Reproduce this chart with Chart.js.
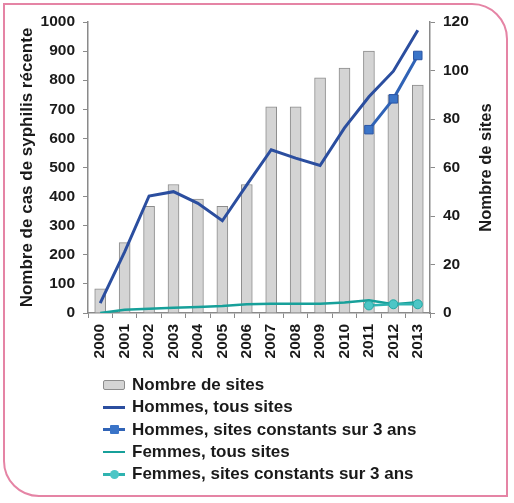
<!DOCTYPE html>
<html>
<head>
<meta charset="utf-8">
<script src="https://cdn.jsdelivr.net/npm/chart.js@4.4.1/dist/chart.umd.min.js"></script>
<style>
  html, body { margin: 0; padding: 0; background: #fff; }
  #wrap { position: relative; width: 514px; height: 503px; overflow: hidden; }
  #frame {
    position: absolute; left: 3px; top: 3px; width: 501px; height: 490px;
    border: 2px solid #e584a5; border-radius: 0 36px 0 36px;
  }
  #chart { position: absolute; left: 0; top: 0; }
  #legend {
    position: absolute; left: 103px; top: 374px;
    font-family: "Liberation Sans", Arial, sans-serif; font-weight: bold;
    font-size: 17px; color: #1a1a1a;
  }
</style>
</head>
<body>
<div id="wrap">
  <div id="frame"></div>
  <canvas id="chart" width="514" height="503"></canvas>
  <div id="legend"></div>
</div>
<script>
const years = ['2000', '2001', '2002', '2003', '2004', '2005', '2006',
  '2007', '2008', '2009', '2010', '2011', '2012', '2013'];
const nbSites = [10, 29, 44, 53, 47, 44, 53, 85, 85, 97, 101, 108, 90, 94];
const hommesTous = [34, 210, 402, 417, 377, 317, 440, 561, 532, 507, 636, 743, 831, 972];
const hommesConst = [null, null, null, null, null, null, null, null, null, null, null, 630, 736, 885];
const femmesTous = [0, 11, 15, 18, 21, 24, 30, 32, 32, 32, 36, 44, 30, 37];
const femmesConst = [null, null, null, null, null, null, null, null, null, null, null, 26, 30, 30];
const leftTicks = { min: 0, max: 1000, step: 100 };
const rightTicks = { min: 0, max: 120, step: 20 };

const FONT = '"Liberation Sans", Arial, sans-serif';
const axisGray = '#8a8a8a';

// right axis title reads bottom-to-top, so it is drawn here
const rightTitle = {
  id: 'rightTitle',
  afterDraw(chart) {
    const { ctx, chartArea } = chart;
    ctx.save();
    ctx.translate(486, (chartArea.top + chartArea.bottom) / 2);
    ctx.rotate(-Math.PI / 2);
    ctx.font = 'bold 16.5px ' + FONT;
    ctx.fillStyle = '#1a1a1a';
    ctx.textAlign = 'center';
    ctx.textBaseline = 'middle';
    ctx.fillText('Nombre de sites', 0, 0);
    ctx.restore();
  }
};

const chart = new Chart(document.getElementById('chart'), {
  type: 'bar',
  data: {
    labels: years,
    datasets: [
      {
        type: 'bar',
        label: 'Nombre de sites',
        data: nbSites,
        yAxisID: 'y1',
        backgroundColor: '#d4d4d4',
        borderColor: '#8c8c8c',
        borderWidth: 1,
        barThickness: 11,
        order: 5,
      },
      {
        type: 'line',
        label: 'Hommes, tous sites',
        data: hommesTous,
        yAxisID: 'y',
        borderColor: '#2b4e9f',
        backgroundColor: '#2b4e9f',
        borderWidth: 3,
        pointRadius: 0,
        tension: 0,
        order: 4,
      },
      {
        type: 'line',
        label: 'Hommes, sites constants sur 3 ans',
        data: hommesConst,
        yAxisID: 'y',
        borderColor: '#3063b6',
        backgroundColor: '#3a74c8',
        borderWidth: 3,
        pointStyle: 'rect',
        pointRadius: 6,
        pointBorderColor: '#2a55a5',
        pointBorderWidth: 1,
        tension: 0,
        order: 3,
      },
      {
        type: 'line',
        label: 'Femmes, tous sites',
        data: femmesTous,
        yAxisID: 'y',
        borderColor: '#17a09a',
        backgroundColor: '#17a09a',
        borderWidth: 2.5,
        pointRadius: 0,
        tension: 0,
        order: 2,
      },
      {
        type: 'line',
        label: 'Femmes, sites constants sur 3 ans',
        data: femmesConst,
        yAxisID: 'y',
        borderColor: '#2fb3b0',
        backgroundColor: '#4cc6c6',
        borderWidth: 2.5,
        pointRadius: 4.5,
        pointBorderColor: '#22a8a4',
        pointBorderWidth: 1,
        tension: 0,
        order: 1,
      },
    ],
  },
  options: {
    responsive: false,
    animation: false,
    devicePixelRatio: 1,
    layout: { padding: { left: 17, right: 0, top: 22, bottom: 0 } },
    plugins: { legend: { display: false }, tooltip: { enabled: false } },
    scales: {
      x: {
        offset: true,
        grid: { display: true, drawOnChartArea: false, offset: true, tickLength: 5, color: axisGray },
        border: { display: true, color: axisGray, width: 1.5 },
        ticks: {
          color: '#1a1a1a', font: { family: FONT, size: 15.5, weight: 'bold' },
          minRotation: 90, maxRotation: 90, padding: 6, autoSkip: false,
        },
        afterFit: (axis) => { axis.height = 190; },
      },
      y: {
        position: 'left',
        min: leftTicks.min,
        max: leftTicks.max,
        ticks: {
          stepSize: leftTicks.step, color: '#1a1a1a', padding: 8,
          font: { family: FONT, size: 15.5, weight: 'bold' },
          callback: (v) => String(v),
        },
        grid: { display: true, drawOnChartArea: false, tickLength: 5, color: axisGray },
        border: { display: true, color: axisGray, width: 1.5 },
        title: {
          display: true,
          text: 'Nombre de cas de syphilis récente',
          color: '#1a1a1a',
          font: { family: FONT, size: 17, weight: 'bold' },
          padding: { top: 0, bottom: 0 },
        },
        afterFit: (axis) => { axis.width = 71; },
      },
      y1: {
        position: 'right',
        min: rightTicks.min,
        max: rightTicks.max,
        ticks: {
          stepSize: rightTicks.step, color: '#1a1a1a', padding: 8,
          font: { family: FONT, size: 15.5, weight: 'bold' },
          callback: (v) => String(v),
        },
        grid: { display: true, drawOnChartArea: false, tickLength: 5, color: axisGray },
        border: { display: true, color: axisGray, width: 1.5 },
        afterFit: (axis) => { axis.width = 84; },
      },
    },
  },
  plugins: [rightTitle],
});

function buildLegend(chart, containerId) {
  const container = document.getElementById(containerId);
  const html = chart.data.datasets.map((ds) => {
    let swatch;
    if (ds.type === 'bar') {
      swatch = `<span style="display:inline-block;width:20px;height:8px;background:${ds.backgroundColor};border:1px solid ${ds.borderColor};border-radius:2px;"></span>`;
    } else {
      let marker = '';
      if (ds.pointRadius > 0) {
        const round = ds.pointStyle === 'rect' ? '1px' : '50%';
        const size = 9;
        marker = `<span style="position:absolute;left:${11 - size / 2}px;top:${-size / 2 + 1}px;width:${size}px;height:${size}px;background:${ds.backgroundColor};border-radius:${round};"></span>`;
      }
      swatch = `<span style="position:relative;display:inline-block;width:22px;height:${ds.borderWidth}px;background:${ds.borderColor};vertical-align:middle;">${marker}</span>`;
    }
    return `<div style="display:flex;align-items:center;height:22.3px;">
      <span style="display:inline-flex;align-items:center;width:29px;">${swatch}</span>
      <span>${ds.label}</span></div>`;
  }).join('');
  container.innerHTML = html;
}
buildLegend(chart, 'legend');
</script>
</body>
</html>
